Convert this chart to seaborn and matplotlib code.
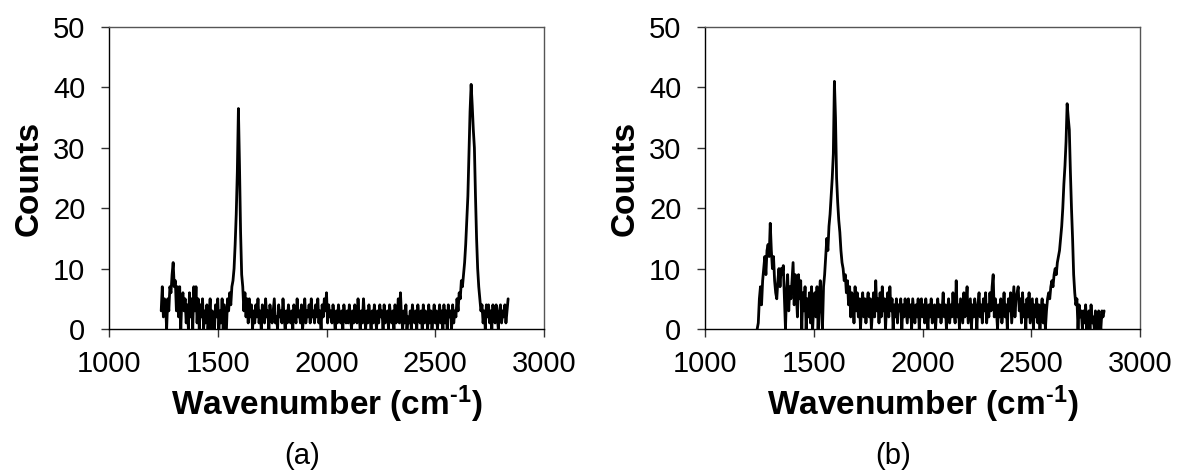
import numpy as np
import pandas as pd
import matplotlib
matplotlib.use("Agg")
import matplotlib.pyplot as plt
import seaborn as sns

# Wavenumber sampling grid (cm-1): 1240 ... 2835, step 5
wavenumber = np.arange(1240, 2836, 5)

counts_a = [
    3, 7, 2, 5, 4, 0, 5, 3, 7, 6, 9, 11, 7, 8, 3, 7, 2, 7, 0, 5,
    6, 3, 5, 1, 4, 0, 6, 2, 5, 0, 7, 3, 7, 1, 5, 0, 4, 2, 5, 0,
    3, 1, 4, 0, 2, 5, 0, 3, 1, 0, 4, 2, 5, 0, 3, 1, 5, 0, 4, 2,
    0, 5, 3, 6, 4, 7, 8, 10, 14, 19, 26, 36.5, 27, 16, 9, 7, 3, 6, 2, 5,
    1, 5, 2, 4, 0, 3, 1, 4, 2, 5, 1, 3, 0, 4, 2, 1, 5, 2, 3, 0,
    4, 2, 1, 3, 5, 1, 2, 0, 4, 2, 3, 1, 5, 2, 0, 3, 1, 4, 2, 1,
    3, 0, 4, 2, 1, 5, 2, 3, 1, 4, 0, 2, 5, 1, 3, 2, 4, 1, 5, 2,
    3, 1, 4, 2, 5, 1, 3, 0, 4, 2, 5, 3, 6, 1, 4, 2, 3, 1, 4, 2,
    0, 3, 1, 4, 2, 1, 3, 0, 4, 2, 1, 3, 1, 4, 2, 0, 3, 1, 4, 2,
    1, 5, 2, 0, 3, 1, 5, 2, 0, 3, 1, 4, 2, 0, 3, 1, 4, 2, 0, 3,
    1, 4, 2, 3, 0, 4, 1, 2, 3, 0, 4, 2, 1, 3, 0, 4, 1, 2, 5, 1,
    6, 2, 0, 3, 1, 4, 0, 2, 1, 3, 0, 4, 2, 1, 3, 0, 4, 2, 1, 3,
    0, 4, 1, 3, 2, 0, 4, 1, 3, 0, 2, 4, 1, 3, 0, 2, 4, 1, 3, 0,
    4, 1, 3, 0, 4, 2, 3, 0, 4, 1, 3, 2, 5, 3, 6, 5, 8, 7, 9, 11,
    14, 18, 22, 29, 36, 40.5, 37, 33, 30, 22, 15, 10, 7, 5, 3, 4, 1, 3, 0, 4,
    2, 4, 1, 3, 0, 4, 2, 1, 4, 2, 0, 3, 4, 1, 3, 2, 4, 1, 3, 5,
]

counts_b = [
    0, 1, 5, 7, 4, 8, 10, 12, 9, 13, 14, 12, 17.5, 13, 10, 12, 8, 6, 5, 8,
    10, 7, 10, 9, 10.5, 5, 0, 6, 9, 3, 7, 5, 8, 11, 4, 9, 6, 2, 9, 5,
    8, 0, 6, 3, 7, 0, 5, 2, 6, 1, 7, 0, 4, 6, 2, 7, 0, 5, 8, 3,
    0, 7, 9, 12, 15, 13, 17, 19, 22, 25, 29, 41, 35, 25, 21, 18, 16, 13, 11, 10,
    8, 9, 6, 8, 4, 7, 2, 6, 5, 1, 7, 3, 6, 2, 5, 0, 4, 6, 2, 5,
    1, 4, 6, 2, 5, 0, 3, 6, 2, 8, 3, 5, 1, 6, 2, 7, 3, 5, 0, 4,
    6, 2, 7, 3, 5, 0, 4, 2, 5, 1, 4, 3, 5, 0, 4, 2, 5, 3, 1, 5,
    2, 4, 0, 5, 3, 1, 4, 2, 5, 0, 3, 5, 2, 4, 1, 5, 3, 0, 4, 2,
    5, 1, 3, 4, 0, 3, 5, 2, 4, 1, 3, 6, 2, 4, 0, 3, 5, 1, 4, 2,
    6, 3, 1, 8, 2, 4, 0, 5, 3, 1, 6, 2, 4, 7, 1, 3, 5, 0, 4, 2,
    5, 3, 0, 4, 6, 2, 4, 1, 5, 3, 6, 1, 4, 2, 6, 3, 7, 9, 2, 5,
    3, 0, 4, 2, 5, 1, 3, 6, 2, 4, 0, 5, 3, 6, 1, 4, 7, 2, 5, 6,
    7, 3, 5, 1, 6, 2, 4, 0, 5, 2, 6, 1, 3, 5, 0, 4, 2, 5, 1, 4,
    0, 3, 5, 1, 4, 0, 3, 5, 6, 5, 7, 8, 7, 9, 10, 9, 11, 12, 13, 15,
    17, 20, 24, 27, 31, 37.3, 35, 33, 26, 20, 15, 9, 6, 4, 5, 0, 4, 2, 3, 0,
    3, 1, 4, 0, 2, 3, 0, 4, 1, 2, 0, 3, 1, 0, 3, 1, 0, 3, 2, 3,
]

panel_labels = ["(a)", "(b)"]
x_ticks = [1000, 1500, 2000, 2500, 3000]
y_ticks = [0, 10, 20, 30, 40, 50]

sns.set_style("white")
plt.rcParams["font.family"] = ["Liberation Sans", "DejaVu Sans"]
plt.rcParams["mathtext.fontset"] = "custom"
plt.rcParams["mathtext.rm"] = "Liberation Sans"
plt.rcParams["mathtext.bf"] = "Liberation Sans:bold"
plt.rcParams["mathtext.default"] = "bf"
plt.rcParams["text.color"] = "black"
plt.rcParams["axes.labelcolor"] = "black"
plt.rcParams["xtick.color"] = "#333333"
plt.rcParams["ytick.color"] = "#333333"
plt.rcParams["xtick.labelcolor"] = "black"
plt.rcParams["ytick.labelcolor"] = "black"

fig = plt.figure(figsize=(11.77, 4.74), dpi=100)
axes_rects = [
    [109 / 1177, 1 - 329 / 474, 435 / 1177, 302 / 474],
    [705 / 1177, 1 - 329 / 474, 435 / 1177, 302 / 474],
]
label_x = [302 / 1177, 893 / 1177]

for rect, counts, plabel, lx in zip(axes_rects, [counts_a, counts_b], panel_labels, label_x):
    ax = fig.add_axes(rect)
    df = pd.DataFrame({"Wavenumber": wavenumber, "Counts": counts})
    sns.lineplot(data=df, x="Wavenumber", y="Counts", ax=ax, color="black",
                 linewidth=2.0, estimator=None, sort=False)
    ax.set_xlim(1000, 3000)
    ax.set_ylim(0, 50)
    ax.set_xticks(x_ticks)
    ax.set_yticks(y_ticks)
    ax.tick_params(axis="both", direction="out", length=6, width=1,
                   bottom=True, left=True, top=False, right=False,
                   labelsize=21, pad=9)
    ax.tick_params(axis="y", pad=11)
    for side in ["left", "bottom"]:
        ax.spines[side].set_color("black")
        ax.spines[side].set_linewidth(1.0)
    for side in ["top", "right"]:
        ax.spines[side].set_color("#555555")
        ax.spines[side].set_linewidth(1.0)
    ax.set_xlabel("Wavenumber (cm$^{\u2010 1}$)", fontsize=24, fontweight="bold", labelpad=4)
    ax.set_ylabel("Counts", fontsize=24, fontweight="bold", labelpad=6)
    fig.text(lx, 1 - 456 / 474, plabel, fontsize=21, ha="center", va="center")

fig.savefig("out.png", dpi=100)
